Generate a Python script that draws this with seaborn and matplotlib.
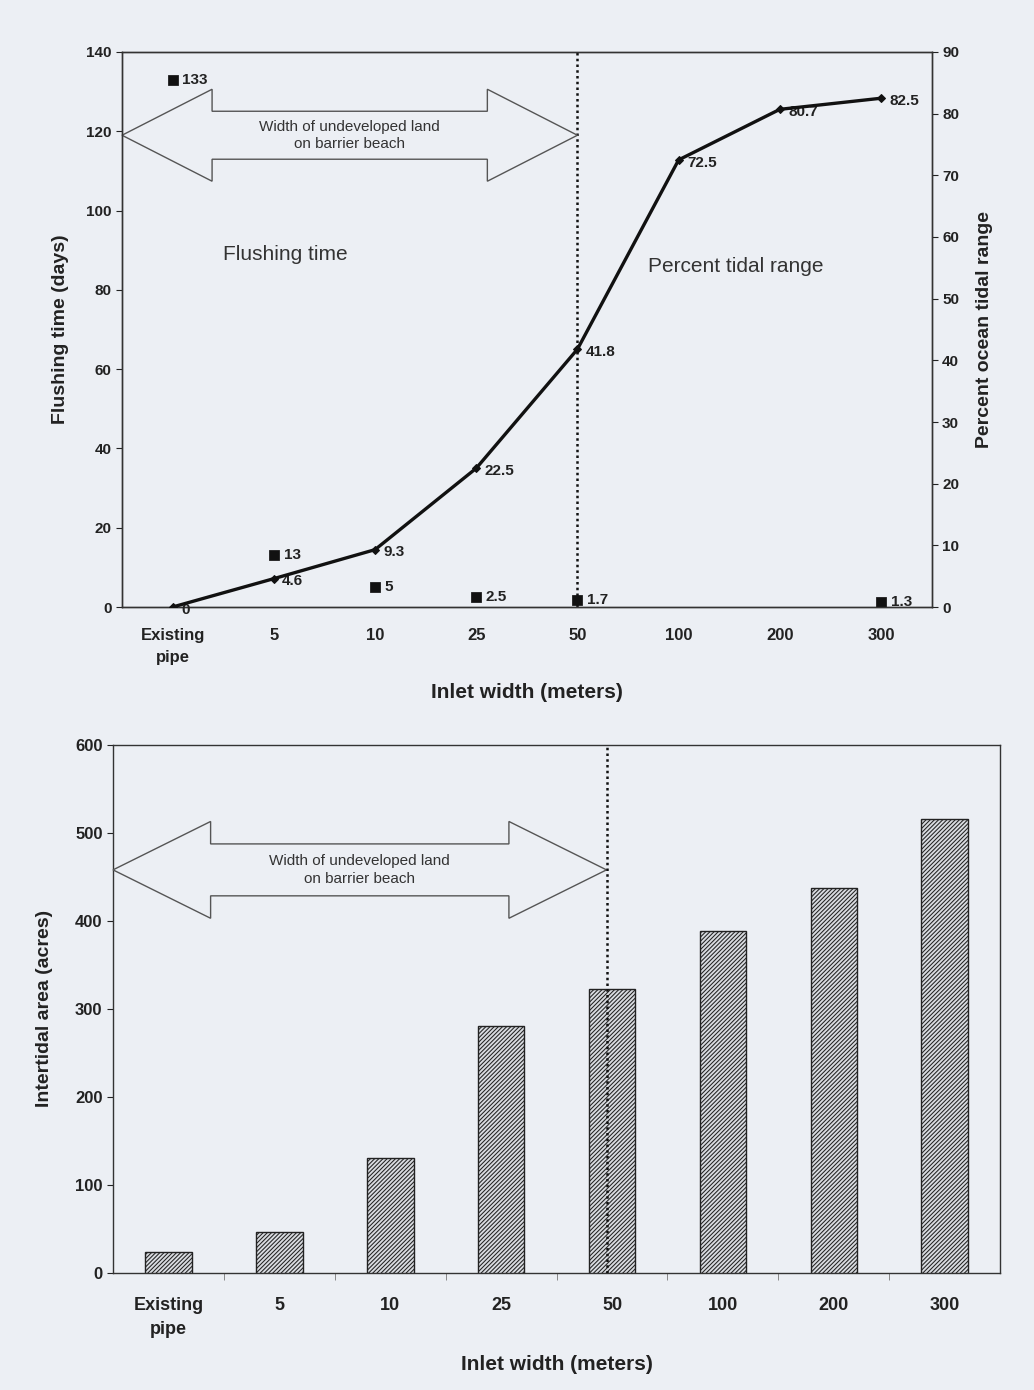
import numpy as np
import pandas as pd
import seaborn as sns
import matplotlib
matplotlib.use("Agg")
import matplotlib.pyplot as plt
from matplotlib.patches import Polygon

# ---------------- data ----------------
inlet_widths = ["Existing\npipe", "5", "10", "25", "50", "100", "200", "300"]
flushing_days = [133, 13, 5, 2.5, 1.7, np.nan, np.nan, 1.3]
tidal_pct = [0, 4.6, 9.3, 22.5, 41.8, 72.5, 80.7, 82.5]
intertidal_acres = [24, 46, 131, 281, 323, 389, 437, 516]
undeveloped_limit = "50"

BG = "#eceff4"
sns.set_style("ticks")
plt.rcParams["font.family"] = ["Liberation Sans", "DejaVu Sans"]
plt.rcParams["hatch.color"] = "#2a2a2a"
plt.rcParams["hatch.linewidth"] = 0.75
NARROW = ["Liberation Sans Narrow", "Liberation Sans", "DejaVu Sans"]

pos = np.arange(len(inlet_widths))
lim_idx = inlet_widths.index(undeveloped_limit)

df = pd.DataFrame({"pos": pos, "label": inlet_widths, "flush": flushing_days,
                   "tidal": tidal_pct, "area": intertidal_acres})


def block_arrow(ax, x0, x1, yc, body_h, head_h, head_l, text, fs):
    # double headed outline arrow between x0 and x1
    pts = [(x0, yc), (x0 + head_l, yc + head_h), (x0 + head_l, yc + body_h),
           (x1 - head_l, yc + body_h), (x1 - head_l, yc + head_h), (x1, yc),
           (x1 - head_l, yc - head_h), (x1 - head_l, yc - body_h),
           (x0 + head_l, yc - body_h), (x0 + head_l, yc - head_h)]
    ax.add_patch(Polygon(pts, closed=True, facecolor=BG, edgecolor="#555555",
                         lw=1.0, zorder=3, clip_on=False))
    ax.text((x0 + x1) / 2, yc, text, ha="center", va="center", fontsize=fs,
            color="#333333", zorder=4, linespacing=1.3)


fig = plt.figure(figsize=(10.34, 13.9), dpi=100, facecolor=BG)

# ---------------- top chart ----------------
ax = fig.add_axes([0.118, 0.5633, 0.783, 0.3993], facecolor=BG)
ax2 = ax.twinx()

sns.scatterplot(data=df, x="pos", y="flush", ax=ax, marker="s", s=45,
                color="#111111", edgecolor="#111111", zorder=5)
sns.lineplot(data=df, x="pos", y="tidal", ax=ax2, color="#111111", lw=2.4,
             marker="D", markersize=4, markeredgecolor="#111111", zorder=5)

for p, v in zip(pos, flushing_days):
    if not np.isnan(v):
        ax.annotate(f"{v:g}", (p, v), xytext=(7, 0), textcoords="offset points",
                    va="center", ha="left", fontsize=11, fontweight="bold",
                    color="#222222")
for p, v in zip(pos, tidal_pct):
    ax2.annotate(f"{v:g}", (p, v), xytext=(6, -2), textcoords="offset points",
                 va="center", ha="left", fontsize=11, fontweight="bold",
                 color="#222222")

ax.set_xlim(-0.5, len(inlet_widths) - 0.5)
ax.set_ylim(0, 140)
ax2.set_ylim(0, 90)
ax.set_yticks(np.arange(0, 141, 20))
ax2.set_yticks(np.arange(0, 91, 10))
ax.set_xticks(pos)
ax.set_xticklabels(inlet_widths, family=NARROW, fontsize=12, fontweight="bold",
                   linespacing=1.6)
ax.tick_params(axis="x", length=0, pad=15, colors="#222222")
ax.tick_params(axis="y", length=4, labelsize=11, colors="#222222")
ax2.tick_params(axis="y", length=4, labelsize=11, colors="#222222")
for t in ax.get_yticklabels() + ax2.get_yticklabels():
    t.set_fontweight("bold")
ax.set_xlabel("Inlet width (meters)", family=NARROW, fontsize=15,
              fontweight="bold", labelpad=13, color="#222222")
ax.set_ylabel("Flushing time (days)", fontsize=14, fontweight="bold",
              labelpad=12, color="#222222")
ax2.set_ylabel("Percent ocean tidal range", fontsize=14, fontweight="bold",
               labelpad=12, color="#222222")
for a in (ax, ax2):
    for s in a.spines.values():
        s.set_color("#333333")
        s.set_linewidth(1.0)

ax.axvline(lim_idx, color="#111111", ls=(0, (1, 1.3)), lw=1.8, zorder=2)
block_arrow(ax, -0.5, lim_idx, 119, 6.05, 11.6, 0.89,
            "Width of undeveloped land\non barrier beach", 11)
ax.text(0.5, 89, "Flushing time", fontsize=15, color="#333333", va="center")
ax.text(4.7, 86, "Percent tidal range", fontsize=15, color="#333333",
        va="center")

# ---------------- bottom chart ----------------
bx = fig.add_axes([0.1093, 0.0842, 0.858, 0.3799], facecolor=BG)
sns.barplot(data=df, x="label", y="area", ax=bx, width=0.42,
            color="#d8dbe0", edgecolor="#222222", linewidth=1.0,
            hatch="////////", saturation=1, zorder=3)
bx.set_xlim(-0.5, len(inlet_widths) - 0.5)
bx.set_ylim(0, 600)
bx.set_yticks(np.arange(0, 601, 100))
bx.set_xticks(pos)
bx.set_xticklabels(inlet_widths, family=NARROW, fontsize=13, fontweight="bold",
                   linespacing=1.6)
bx.set_xticks(pos[:-1] + 0.5, minor=True)
bx.tick_params(axis="x", which="major", length=0, pad=17, colors="#222222")
bx.tick_params(axis="x", which="minor", length=5, color="#777777")
bx.tick_params(axis="y", length=4, labelsize=12, colors="#222222")
for t in bx.get_yticklabels():
    t.set_fontweight("bold")
bx.set_xlabel("Inlet width (meters)", family=NARROW, fontsize=15,
              fontweight="bold", labelpad=12, color="#222222")
bx.set_ylabel("Intertidal area (acres)", fontsize=14, fontweight="bold",
              labelpad=16, color="#222222")
for s in bx.spines.values():
    s.set_color("#333333")
    s.set_linewidth(1.0)

bx.axvline(lim_idx - 0.05, color="#111111", ls=(0, (1, 1.3)), lw=1.8, zorder=4)
block_arrow(bx, -0.5, lim_idx - 0.05, 458, 29.5, 55, 0.88,
            "Width of undeveloped land\non barrier beach", 11)

fig.savefig("out.png", dpi=100, facecolor=BG)
